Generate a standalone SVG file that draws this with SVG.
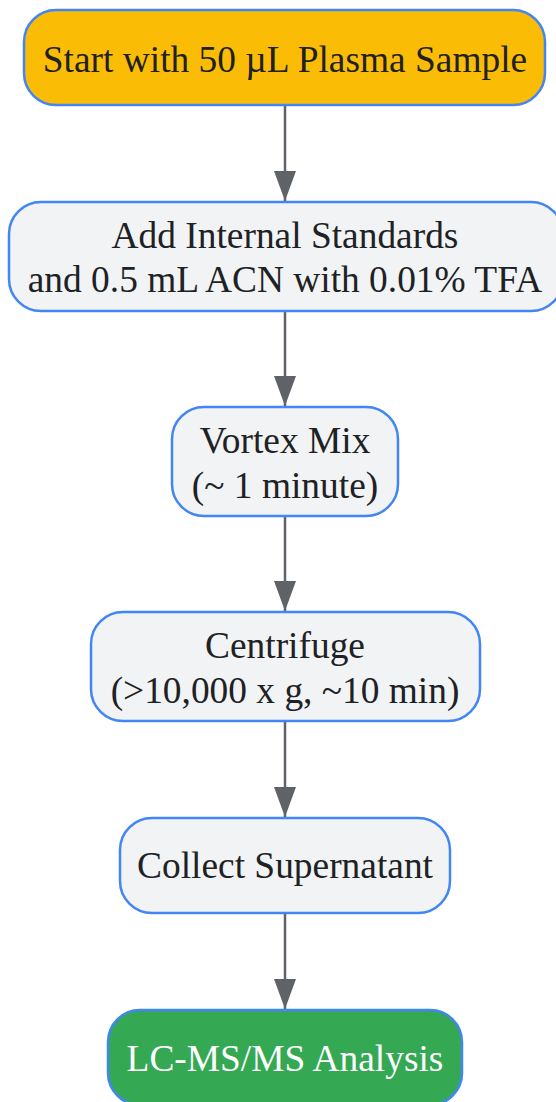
<svg xmlns="http://www.w3.org/2000/svg" width="556" height="1102" viewBox="0 0 556 1102">
<style>
.n{stroke:#4285F4;stroke-width:2.5}
.p{fill:#F1F3F4}
.t{font-family:"Liberation Serif","Times New Roman",serif;font-size:37.4px;fill:#202124;text-anchor:middle}
.w{fill:#FFFFFF}
.e{stroke:#5F6368;stroke-width:2.5;fill:none}
</style>
<defs>
<marker id="ah" markerUnits="userSpaceOnUse" markerWidth="32" markerHeight="24" refX="30" refY="11" orient="auto">
<path d="M0,0 L30,11 L0,22 Z" fill="#5F6368"/>
</marker>
</defs>
<rect width="556" height="1102" fill="#FFFFFF"/>
<g id="connectors">
<line class="e" x1="285" y1="106" x2="285" y2="201" marker-end="url(#ah)"/>
<line class="e" x1="285" y1="312" x2="285" y2="406" marker-end="url(#ah)"/>
<line class="e" x1="285" y1="517" x2="285" y2="611" marker-end="url(#ah)"/>
<line class="e" x1="285" y1="722" x2="285" y2="817" marker-end="url(#ah)"/>
<line class="e" x1="285" y1="914" x2="285" y2="1009" marker-end="url(#ah)"/>
</g>
<g id="start">
<rect class="n" x="24" y="10" width="521" height="95" rx="32" fill="#FBBC05"/>
<text class="t" x="285" y="72">Start with 50 µL Plasma Sample</text>
</g>
<g id="add">
<rect class="n p" x="9" y="202" width="554" height="109" rx="32"/>
<text class="t" x="285" y="248">Add Internal Standards</text>
<text class="t" x="285" y="292">and 0.5 mL ACN with 0.01% TFA</text>
</g>
<g id="vortex">
<rect class="n p" x="172" y="407" width="226" height="109" rx="32"/>
<text class="t" x="285" y="453">Vortex Mix</text>
<text class="t" x="285" y="498">(~ 1 minute)</text>
</g>
<g id="centrifuge">
<rect class="n p" x="91" y="612" width="389" height="109" rx="32"/>
<text class="t" x="285" y="658">Centrifuge</text>
<text class="t" x="285" y="703">(&gt;10,000 x g, ~10 min)</text>
</g>
<g id="collect">
<rect class="n p" x="120" y="818" width="330" height="95" rx="32"/>
<text class="t" x="285" y="878">Collect Supernatant</text>
</g>
<g id="analysis">
<rect class="n" x="108" y="1010" width="354" height="95" rx="32" fill="#34A853"/>
<text class="t w" x="285" y="1071">LC-MS/MS Analysis</text>
</g>
</svg>
